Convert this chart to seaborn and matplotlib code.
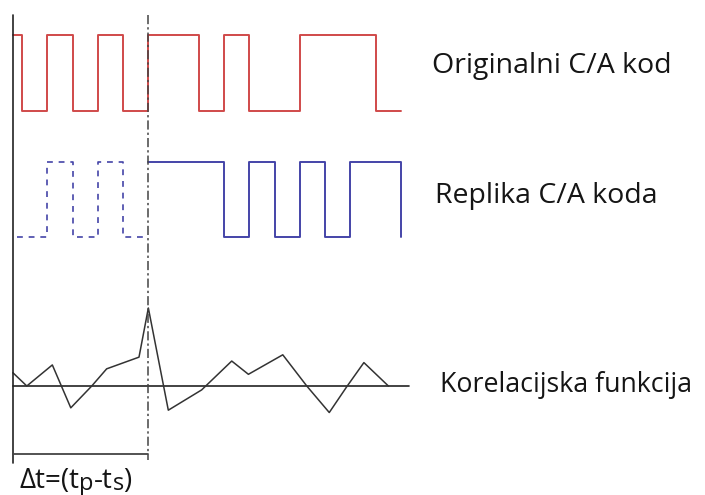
import matplotlib
matplotlib.use("Agg")
import matplotlib.pyplot as plt
import seaborn as sns

sns.set_theme(style="white")
plt.rcParams['font.family'] = ['Open Sans', 'DejaVu Sans']

# ---- data (time in chip units) ----
delay = 5.0            # code phase offset (chips)
t_start = -0.36

orig_t = [-0.36, 0, 1, 2, 3, 4, 5, 7, 8, 9, 11, 14, 15]
orig_lvl = [1, 0, 1, 0, 1, 0, 1, 0, 1, 0, 1, 0, 0]

rep_pre_t = [-0.2, 1, 2, 3, 4, 5]
rep_pre_lvl = [0, 1, 0, 1, 0, 0]

rep_t = [5, 8, 9, 10, 11, 12, 13, 15]
rep_lvl = [1, 0, 1, 0, 1, 0, 1, 0]

corr_t = [-0.36, 0.19, 1.2, 1.93, 2.76, 3.35, 4.63, 5.0, 5.79, 7.11,
          8.3, 8.96, 10.32, 11.27, 12.16, 12.85, 13.53, 14.5]
corr_v = [0.17, 0.0, 0.27, -0.28, 0.0, 0.22, 0.37, 1.0, -0.31, -0.05,
          0.32, 0.15, 0.40, 0.0, -0.34, -0.01, 0.30, 0.0]
corr_axis_end = 15.31

labels = ["Originalni C/A kod", "Replika C/A koda", "Korelacijska funkcija"]
delta_pieces = ["\u0394t=(t", "p", "-t", "s", ")"]
delta_sub = [False, True, False, True, False]

# ---- layout ----
W, H = 705, 495
fig = plt.figure(figsize=(W / 100, H / 100), dpi=100)
XL = (-0.871, 27.03)

def band(ytop, ybot):
    ax = fig.add_axes([0, 1 - ybot / H, 1, (ybot - ytop) / H])
    ax.set_xlim(*XL)
    ax.set_ylim(0, 1)
    ax.axis("off")
    return ax

red = "#d04a4a"
blue = "#4444a8"
dark = "#333333"

ax1 = band(35, 111)
sns.lineplot(x=orig_t, y=orig_lvl, ax=ax1, color=red, lw=1.4,
             drawstyle="steps-post", estimator=None, sort=False, clip_on=False)

ax2 = band(162, 237)
sns.lineplot(x=rep_pre_t, y=rep_pre_lvl, ax=ax2, color=blue, lw=1.2,
             drawstyle="steps-post", estimator=None, sort=False, clip_on=False,
             linestyle=(0, (3.5, 3.5)))
sns.lineplot(x=rep_t, y=rep_lvl, ax=ax2, color=blue, lw=1.4,
             drawstyle="steps-post", estimator=None, sort=False, clip_on=False)

ax3 = band(308, 386)
ax3.plot([t_start, corr_axis_end], [0, 0], color="#222222", lw=1.2, clip_on=False)
sns.lineplot(x=corr_t, y=corr_v, ax=ax3, color=dark, lw=1.1,
             estimator=None, sort=False, clip_on=False)

# overlay for vertical markers in pixel coordinates
ov = fig.add_axes([0, 0, 1, 1], facecolor="none")
ov.set_xlim(*XL)
ov.set_ylim(H, 0)
ov.axis("off")
ov.plot([t_start, t_start], [15, 463], color="#222222", lw=1.2)
ov.plot([delay, delay], [15, 460], color="#444444", lw=1.1,
        linestyle=(0, (6, 2, 1.5, 2)))
ov.plot([t_start, delay], [454, 454], color="#444444", lw=1.3)

fs = 20.5
tc = "#151515"
fig.text(432 / W, 1 - 73 / H, labels[0], fontsize=fs, va="baseline", ha="left", color=tc)
fig.text(435 / W, 1 - 203 / H, labels[1], fontsize=fs, va="baseline", ha="left", color=tc)
fig.text(440 / W, 1 - 392 / H, labels[2], fontsize=19.3, va="baseline", ha="left", color=tc)

# delta-t label built from pieces with subscripts
renderer = fig.canvas.get_renderer()
x = 19.0
dfs = 20.0
for piece, sub in zip(delta_pieces, delta_sub):
    size = dfs * 0.85 if sub else dfs
    ybase = 488 + (2 if sub else 0)
    t = fig.text(x / W, 1 - ybase / H, piece, fontsize=size, va="baseline",
                 ha="left", color=tc)
    bb = t.get_window_extent(renderer=renderer)
    x += bb.width

fig.savefig("out.png", dpi=100)
